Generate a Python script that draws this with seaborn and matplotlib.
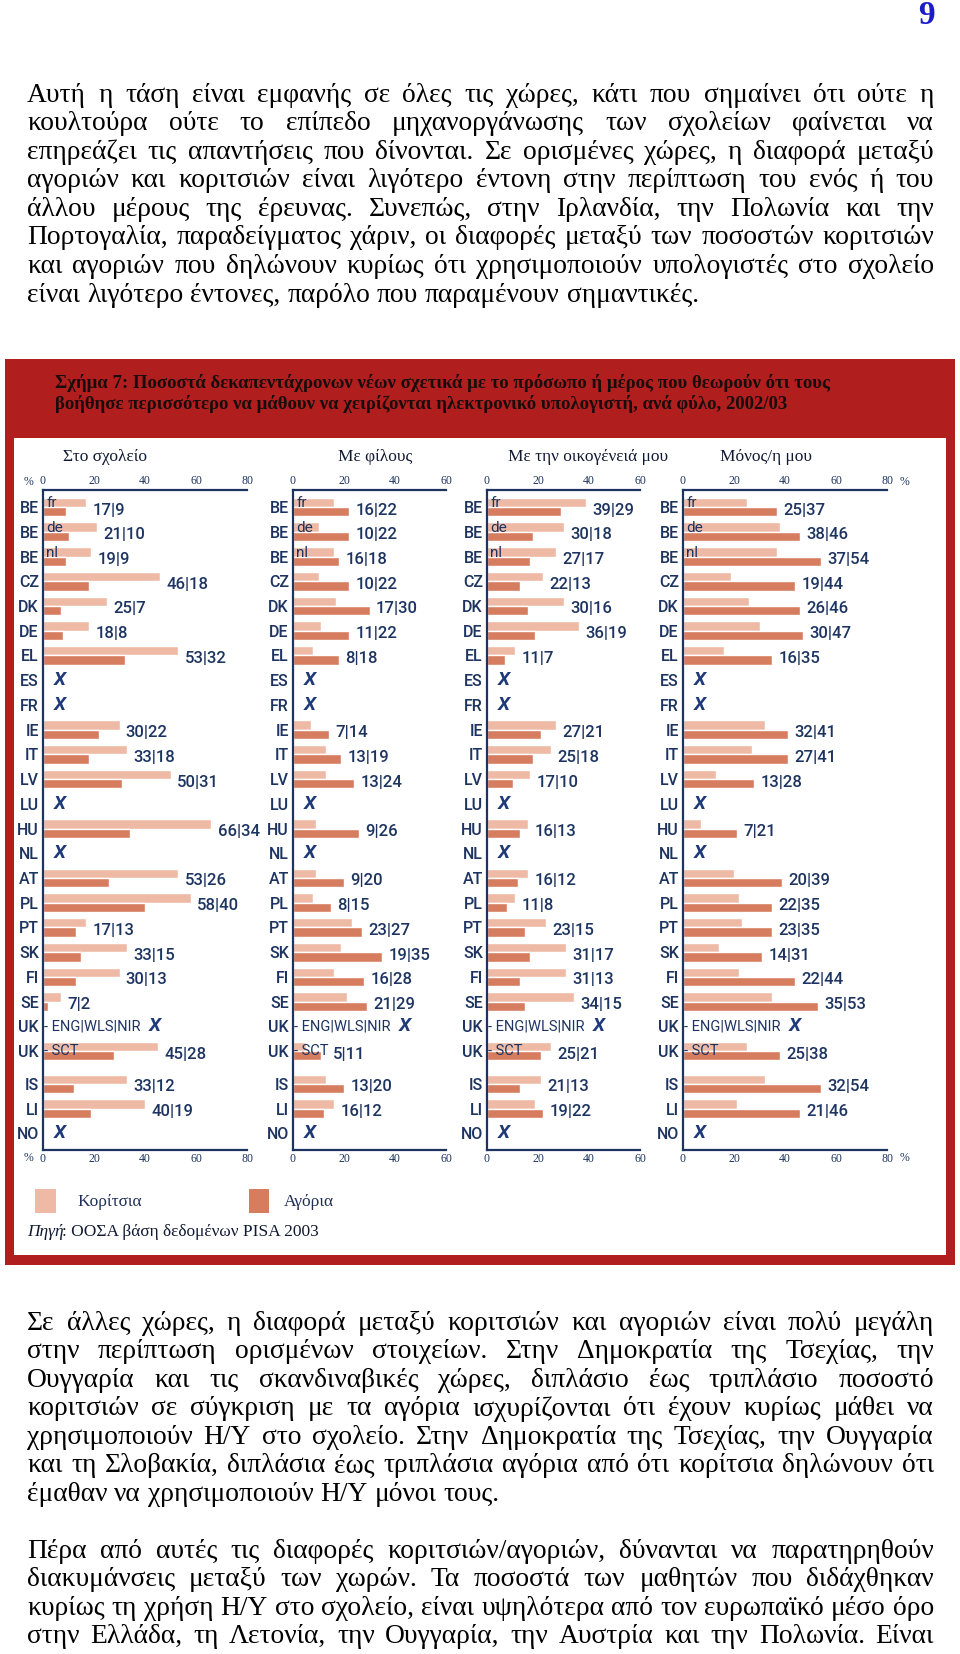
import numpy as np
import pandas as pd
import seaborn as sns
import matplotlib.pyplot as plt
from matplotlib.patches import Rectangle

sns.set_theme(style='white')
plt.rcParams['font.family'] = ['Liberation Serif', 'DejaVu Serif']
NARROW = ['Liberation Sans Narrow', 'Roboto', 'DejaVu Sans']

nan = np.nan
countries = ['BE', 'BE', 'BE', 'CZ', 'DK', 'DE', 'EL', 'ES', 'FR', 'IE', 'IT', 'LV', 'LU',
             'HU', 'NL', 'AT', 'PL', 'PT', 'SK', 'FI', 'SE', 'UK', 'UK', 'IS', 'LI', 'NO']
sublabels = ['fr', 'de', 'nl'] + [''] * 18 + ['- ENG|WLS|NIR', '- SCT', '', '', '']

school_girls = [17, 21, 19, 46, 25, 18, 53, nan, nan, 30, 33, 50, nan, 66, nan, 53, 58, 17, 33, 30, 7, nan, 45, 33, 40, nan]
school_boys = [9, 10, 9, 18, 7, 8, 32, nan, nan, 22, 18, 31, nan, 34, nan, 26, 40, 13, 15, 13, 2, nan, 28, 12, 19, nan]
friends_girls = [16, 10, 16, 10, 17, 11, 8, nan, nan, 7, 13, 13, nan, 9, nan, 9, 8, 23, 19, 16, 21, nan, 5, 13, 16, nan]
friends_boys = [22, 22, 18, 22, 30, 22, 18, nan, nan, 14, 19, 24, nan, 26, nan, 20, 15, 27, 35, 28, 29, nan, 11, 20, 12, nan]
family_girls = [39, 30, 27, 22, 30, 36, 11, nan, nan, 27, 25, 17, nan, 16, nan, 16, 11, 23, 31, 31, 34, nan, 25, 21, 19, nan]
family_boys = [29, 18, 17, 13, 16, 19, 7, nan, nan, 21, 18, 10, nan, 13, nan, 12, 8, 15, 17, 13, 15, nan, 21, 13, 22, nan]
alone_girls = [25, 38, 37, 19, 26, 30, 16, nan, nan, 32, 27, 13, nan, 7, nan, 20, 22, 23, 14, 22, 35, nan, 25, 32, 21, nan]
alone_boys = [37, 46, 54, 44, 46, 47, 35, nan, nan, 41, 41, 28, nan, 21, nan, 39, 35, 35, 31, 44, 53, nan, 38, 54, 46, nan]

panel_titles = ['Στο σχολείο', 'Με φίλους', 'Με την οικογένειά μου', 'Μόνος/η μου']
panel_max = [80, 60, 60, 80]
legend_labels = ['Κορίτσια', 'Αγόρια']

title_lines = ['Σχήμα 7: Ποσοστά δεκαπεντάχρονων νέων σχετικά με το πρόσωπο ή μέρος που θεωρούν ότι τους',
               'βοήθησε περισσότερο να μάθουν να χειρίζονται ηλεκτρονικό υπολογιστή, ανά φύλο, 2002/03']
source = 'ΟΟΣΑ βάση δεδομένων PISA 2003'

para1 = ['Αυτή η τάση είναι εμφανής σε όλες τις χώρες, κάτι που σημαίνει ότι ούτε η',
         'κουλτούρα ούτε το επίπεδο μηχανοργάνωσης των σχολείων φαίνεται να',
         'επηρεάζει τις απαντήσεις που δίνονται. Σε ορισμένες χώρες, η διαφορά μεταξύ',
         'αγοριών και κοριτσιών είναι λιγότερο έντονη στην περίπτωση του ενός ή του',
         'άλλου μέρους της έρευνας. Συνεπώς, στην Ιρλανδία, την Πολωνία και την',
         'Πορτογαλία, παραδείγματος χάριν, οι διαφορές μεταξύ των ποσοστών κοριτσιών',
         'και αγοριών που δηλώνουν κυρίως ότι χρησιμοποιούν υπολογιστές στο σχολείο',
         'είναι λιγότερο έντονες, παρόλο που παραμένουν σημαντικές.']
para2 = ['Σε άλλες χώρες, η διαφορά μεταξύ κοριτσιών και αγοριών είναι πολύ μεγάλη',
         'στην περίπτωση ορισμένων στοιχείων. Στην Δημοκρατία της Τσεχίας, την',
         'Ουγγαρία και τις σκανδιναβικές χώρες, διπλάσιο έως τριπλάσιο ποσοστό',
         'κοριτσιών σε σύγκριση με τα αγόρια ισχυρίζονται ότι έχουν κυρίως μάθει να',
         'χρησιμοποιούν Η/Υ στο σχολείο. Στην Δημοκρατία της Τσεχίας, την Ουγγαρία',
         'και τη Σλοβακία, διπλάσια έως τριπλάσια αγόρια από ότι κορίτσια δηλώνουν ότι',
         'έμαθαν να χρησιμοποιούν Η/Υ μόνοι τους.']
para3 = ['Πέρα από αυτές τις διαφορές κοριτσιών/αγοριών, δύνανται να παρατηρηθούν',
         'διακυμάνσεις μεταξύ των χωρών. Τα ποσοστά των μαθητών που διδάχθηκαν',
         'κυρίως τη χρήση Η/Υ στο σχολείο, είναι υψηλότερα από τον ευρωπαϊκό μέσο όρο',
         'στην Ελλάδα, τη Λετονία, την Ουγγαρία, την Αυστρία και την Πολωνία. Είναι']

W, H = 960, 1654
PX = 2.55          # pixels per percent point
NAVY = '#1d3461'
RED = '#b01e1e'
LIGHT, DARK = '#eebaa5', '#d77d5f'
BODY = 19.8
LINE = 28.6

fig = plt.figure(figsize=(W / 100, H / 100), dpi=100)
bg = fig.add_axes([0, 0, 1, 1])
bg.set_xlim(0, W)
bg.set_ylim(H, 0)
bg.axis('off')

# page number
bg.text(926, 16, '9', color='#1c1cc8', fontsize=24, fontweight='bold', ha='center', va='center')

# body text, justified
renderer = fig.canvas.get_renderer()
def paragraph(lines, y0, justify_last=False):
    for k, line in enumerate(lines):
        y = y0 + k * LINE
        words = line.split()
        objs = [bg.text(0, y, w, fontsize=BODY, va='center', color='black') for w in words]
        widths = [o.get_window_extent(renderer).width for o in objs]
        if k == len(lines) - 1 and not justify_last:
            gap = 0.25 * BODY * 100 / 72
        else:
            gap = (934 - 27 - sum(widths)) / (len(words) - 1)
        x = 27
        for o, w in zip(objs, widths):
            o.set_x(x)
            x += w + gap

paragraph(para1, 95)
paragraph(para2, 1323)
paragraph(para3, 1551, justify_last=True)

# chart frame
bg.add_patch(Rectangle((5, 359), 950, 906, fc=RED, ec='none'))
bg.add_patch(Rectangle((14, 438), 932, 817, fc='white', ec='none'))
for k, t in enumerate(title_lines):
    bg.text(55, 383 + k * 21, t, color='#1a0c0c', fontsize=13.5, fontweight='bold', va='center')

heads_x = [63, 338, 508, 720]
for t, x in zip(panel_titles, heads_x):
    bg.text(x, 457, t, fontsize=12.5, color='#111a33', va='center')

for y in [482, 1158]:
    bg.text(28, y, '%', fontsize=8.5, color=NAVY, ha='center', va='center')
    bg.text(905, y, '%', fontsize=8.5, color=NAVY, ha='center', va='center')

# legend and source
bg.add_patch(Rectangle((35, 1189), 21, 24, fc=LIGHT, ec='none'))
bg.add_patch(Rectangle((249, 1189), 20, 24, fc=DARK, ec='none'))
bg.text(77, 1202, legend_labels[0], fontsize=12.5, color='#1f2d5a', va='center')
bg.text(284, 1202, legend_labels[1], fontsize=12.5, color='#1f2d5a', va='center')
bg.text(27, 1232, 'Πηγή', fontsize=12.5, style='italic', color='#111a33', va='center')
bg.text(62, 1232, ': ' + source, fontsize=12.5, color='#111a33', va='center')

# panels
rows = np.arange(len(countries)) + np.where(np.arange(len(countries)) >= 23, 0.33, 0)
panel_data = [(school_girls, school_boys), (friends_girls, friends_boys),
              (family_girls, family_boys), (alone_girls, alone_boys)]
panel_x0 = [43, 293, 487, 683]

for (girls, boys), xmax, x0 in zip(panel_data, panel_max, panel_x0):
    ax = fig.add_axes([x0 / W, 1 - 1150 / H, xmax * PX / W, 660 / H])
    ax.set_facecolor('none')
    df = pd.DataFrame({'pos': np.r_[rows, rows],
                       'val': np.r_[girls, boys],
                       'sex': [legend_labels[0]] * len(rows) + [legend_labels[1]] * len(rows)})
    sns.barplot(df, x='val', y='pos', hue='sex', hue_order=legend_labels, orient='y',
                native_scale=True, palette=[LIGHT, DARK], width=0.76, errorbar=None,
                saturation=1, legend=False, ax=ax)
    ax.set_xlim(0, xmax)
    ax.set_ylim(26.0, -0.69)
    ax.set_xlabel('')
    ax.set_ylabel('')
    for s in ['left', 'top', 'bottom']:
        ax.spines[s].set_color(NAVY)
        ax.spines[s].set_linewidth(1.6)
    ax.spines['right'].set_visible(False)
    ax.set_xticks(range(0, xmax + 1, 20))
    ax.tick_params(axis='x', top=True, labeltop=True, bottom=True, labelbottom=True,
                   length=0, pad=2, labelsize=8.5, labelcolor=NAVY)
    ax.set_yticks(rows, countries)
    ax.tick_params(axis='y', length=0, pad=3, labelsize=11.5, labelcolor=NAVY)
    for lbl in ax.get_yticklabels():
        lbl.set_fontfamily(NARROW)
        lbl.set_fontweight('medium')

    for pos, g, b, sub in zip(rows, girls, boys, sublabels):
        if sub.startswith('-'):
            ax.text(0.2, pos, sub, fontsize=10.5, color=NAVY, family=NARROW, va='center', zorder=5)
        elif sub:
            ax.text(1.2, pos - 0.15, sub, fontsize=11, color=NAVY, family=NARROW, va='center')
        if np.isnan(g):
            xm = 44 if sub.startswith('- ENG') else 6.5
            ax.text(xm, pos, 'X', fontsize=14, fontweight='bold', style='italic', color='#1f3a78',
                    family=NARROW, ha='center', va='center')
        else:
            xl = max(g, b) + 2.5
            if sub == '- SCT':
                xl = max(xl, 15.5)
            ax.text(xl, pos + 0.12, f'{g:.0f}|{b:.0f}', fontsize=12, color=NAVY,
                    family=NARROW, fontweight='medium', va='center', clip_on=False)

fig.savefig('out.png', dpi=100)
